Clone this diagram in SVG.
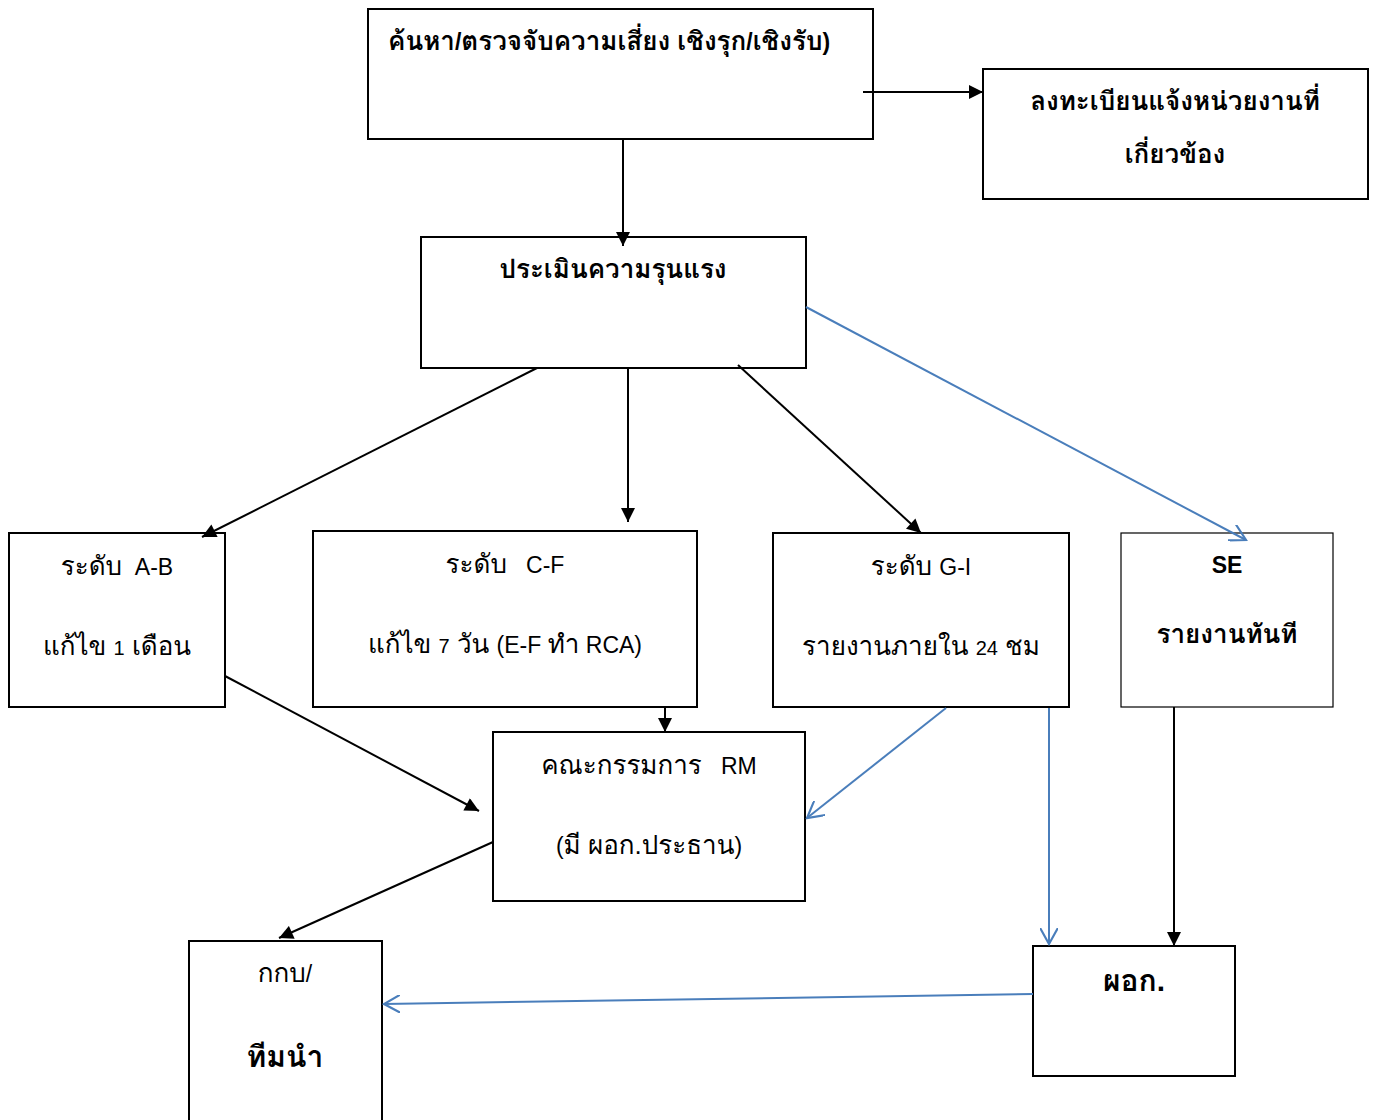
<svg xmlns="http://www.w3.org/2000/svg" width="1375" height="1120" viewBox="0 0 1375 1120">
<style>
.box{fill:#fff;stroke:#000;stroke-width:2}
.t{font-family:"Liberation Sans","Loma","Garuda","Tahoma","Noto Sans Thai Looped","Noto Sans Thai",sans-serif;font-size:26px;fill:#000;white-space:pre}
.l{font-size:23px}
.n{font-size:20px}
.b{font-weight:bold}
.c{text-anchor:middle}
.k{stroke:#000;stroke-width:2;fill:none}
.bl{stroke:#4a7ebb;stroke-width:2;fill:none}
</style>
<defs>
<marker id="ak" viewBox="0 0 10 10" refX="10" refY="5" markerWidth="16" markerHeight="14" markerUnits="userSpaceOnUse" orient="auto"><path d="M0,0 L10,5 L0,10 z" fill="#000"/></marker>
<marker id="ab" viewBox="0 0 10 10" refX="9" refY="5" markerWidth="18" markerHeight="18" markerUnits="userSpaceOnUse" orient="auto"><path d="M0,0 L9,5 L0,10" fill="none" stroke="#4a7ebb" stroke-width="1.2"/></marker>
</defs>
<rect width="1375" height="1120" fill="#fff"/>
<g id="n-detect"><rect class="box" x="368" y="9" width="505" height="130"/><text class="t b" x="388" y="50">ค้นหา<tspan class="l">/</tspan>ตรวจจับความเสี่ยง เชิงรุก<tspan class="l">/</tspan>เชิงรับ<tspan class="l">)</tspan></text></g>
<g id="n-register"><rect class="box" x="983" y="69" width="385" height="130"/><text class="t b c" x="1175" y="110">ลงทะเบียนแจ้งหน่วยงานที่</text><text class="t b c" x="1175" y="163">เกี่ยวข้อง</text></g>
<g id="n-assess"><rect class="box" x="421" y="237" width="385" height="131"/><text class="t b c" x="613" y="278">ประเมินความรุนแรง</text></g>
<g id="n-ab"><rect class="box" x="9" y="533" width="216" height="174"/><text class="t c" x="117" y="575" xml:space="preserve">ระดับ<tspan class="l">  A-B</tspan></text><text class="t c" x="117" y="655">แก้ไข <tspan class="n">1</tspan> เดือน</text></g>
<g id="n-cf"><rect class="box" x="313" y="531" width="384" height="176"/><text class="t c" x="505" y="573" xml:space="preserve">ระดับ<tspan class="l">   C-F</tspan></text><text class="t c" x="505" y="653">แก้ไข <tspan class="n">7</tspan> วัน <tspan class="l">(E-F </tspan>ทำ<tspan class="l"> RCA)</tspan></text></g>
<g id="n-gi"><rect class="box" x="773" y="533" width="296" height="174"/><text class="t c" x="921" y="575">ระดับ <tspan class="l">G-I</tspan></text><text class="t c" x="921" y="655">รายงานภายใน <tspan class="n">24</tspan> ชม</text></g>
<g id="n-se"><rect class="box" x="1121" y="533" width="212" height="174" style="stroke-width:1.2"/><text class="t b c" x="1227" y="573"><tspan class="l">SE</tspan></text><text class="t b c" x="1227" y="643">รายงานทันที</text></g>
<g id="n-rm"><rect class="box" x="493" y="732" width="312" height="169"/><text class="t c" x="649" y="774" xml:space="preserve">คณะกรรมการ<tspan class="l">   RM</tspan></text><text class="t c" x="649" y="854"><tspan class="l">(</tspan>มี ผอก.ประธาน<tspan class="l">)</tspan></text></g>
<g id="n-team"><rect class="box" x="189" y="941" width="193" height="190"/><text class="t c" x="285" y="982">กกบ<tspan class="l">/</tspan></text><text class="t b c" x="285" y="1067" style="font-size:30px">ทีมนำ</text></g>
<g id="n-director"><rect class="box" x="1033" y="946" width="202" height="130"/><text class="t b c" x="1134" y="991" style="font-size:30px">ผอก.</text></g>
<g id="connectors">
<line class="k" x1="863" y1="92" x2="983" y2="92" marker-end="url(#ak)"/>
<line class="k" x1="623" y1="139" x2="623" y2="246" marker-end="url(#ak)"/>
<line class="k" x1="537" y1="368" x2="202" y2="537" marker-end="url(#ak)"/>
<line class="k" x1="628" y1="368" x2="628" y2="522" marker-end="url(#ak)"/>
<line class="k" x1="738" y1="365" x2="921" y2="533" marker-end="url(#ak)"/>
<line class="bl" x1="806" y1="307" x2="1246" y2="540" marker-end="url(#ab)"/>
<line class="k" x1="225" y1="676" x2="479" y2="811" marker-end="url(#ak)"/>
<line class="k" x1="665" y1="707" x2="665" y2="732" marker-end="url(#ak)"/>
<line class="bl" x1="946" y1="708" x2="807" y2="818" marker-end="url(#ab)"/>
<line class="bl" x1="1049" y1="708" x2="1049" y2="944" marker-end="url(#ab)"/>
<line class="k" x1="1174" y1="707" x2="1174" y2="946" marker-end="url(#ak)"/>
<line class="k" x1="493" y1="842" x2="279" y2="938" marker-end="url(#ak)"/>
<line class="bl" x1="1033" y1="994" x2="384" y2="1004" marker-end="url(#ab)"/>
</g>
</svg>
